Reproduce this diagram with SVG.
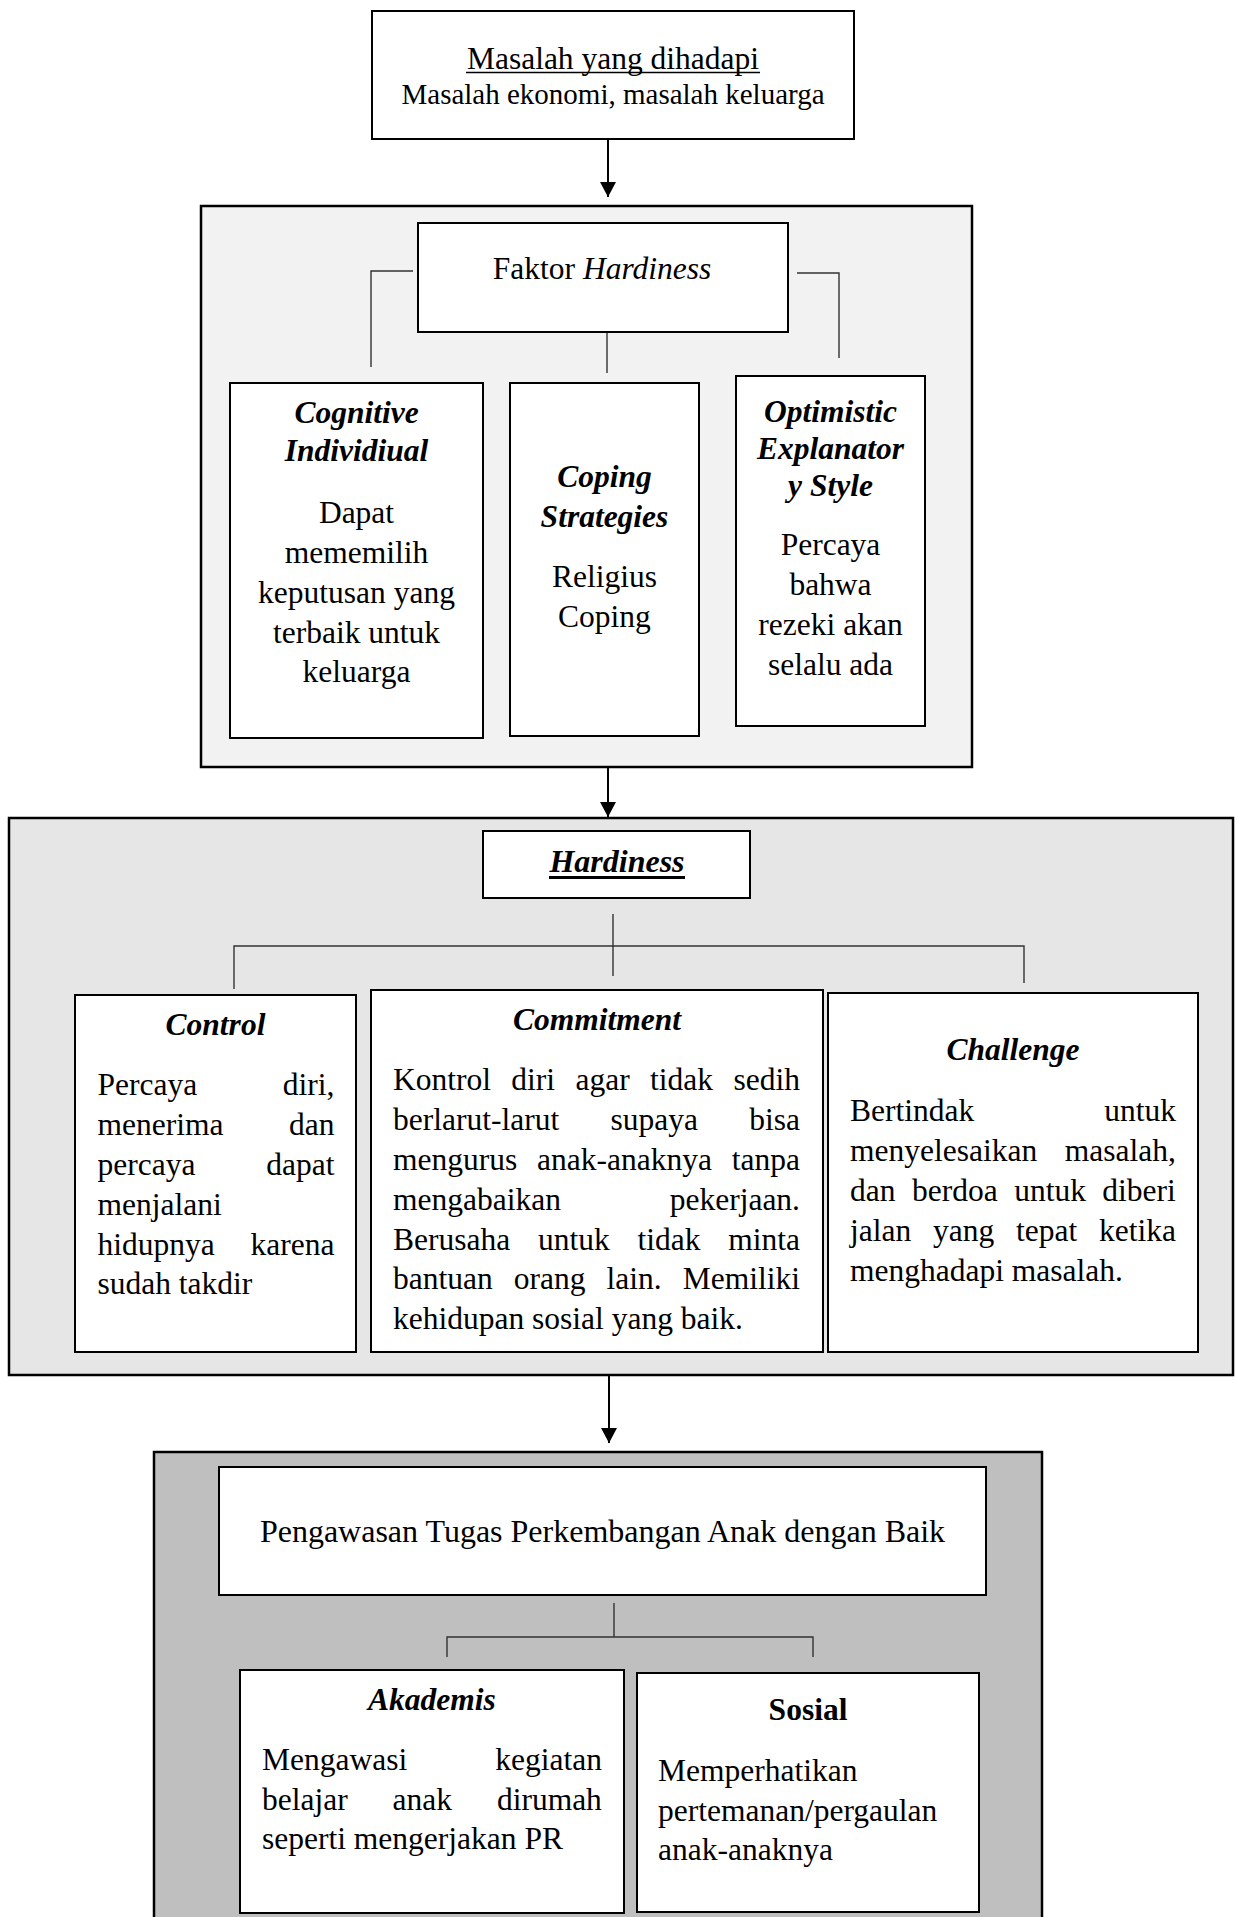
<svg xmlns="http://www.w3.org/2000/svg" width="1235" height="1917" viewBox="0 0 1235 1917">
<style>
.panel{stroke:#000;stroke-width:2.5}
.box{fill:#fff;stroke:#000;stroke-width:2}
.t{font-family:"Liberation Serif","Times New Roman",serif;font-size:31.5px;fill:#000}
.c{text-anchor:middle}
.bi{font-weight:bold;font-style:italic}
.b{font-weight:bold}
.tree{stroke:#333;stroke-width:1.4;fill:none}
.arr{stroke:#000;stroke-width:2;fill:none;marker-end:url(#ah)}
.ul{stroke:#000}
</style>
<defs>
<marker id="ah" markerUnits="userSpaceOnUse" viewBox="0 0 15 16" markerWidth="15" markerHeight="16" refX="15" refY="8" orient="auto">
<path d="M0,0 L15,8 L0,16 z" fill="#000"/>
</marker>
</defs>
<rect width="1235" height="1917" fill="#fff"/>

<!-- panels -->
<rect id="panel-faktor" class="panel" x="201" y="206" width="771" height="561" fill="#f2f2f2"/>
<rect id="panel-hardiness" class="panel" x="9" y="818" width="1224" height="557" fill="#e6e6e6"/>
<rect id="panel-pengawasan" class="panel" x="154" y="1452" width="888" height="480" fill="#bfbfbf"/>

<!-- connectors -->
<g id="connectors">
<path class="arr" d="M608,139 V197"/>
<path class="arr" d="M608,767 V817"/>
<path class="arr" d="M609,1375 V1443"/>
<path class="tree" d="M413,271 H371 V367"/>
<path class="tree" d="M607,332 V373"/>
<path class="tree" d="M797,273 H839 V358"/>
<path class="tree" d="M613,914 V976"/>
<path class="tree" d="M234,989 V946 H1024 V983"/>
<path class="tree" d="M614,1603 V1637"/>
<path class="tree" d="M447,1657 V1637 H813 V1657"/>
</g>

<g id="masalah">
<rect class="box" x="372" y="11" width="482" height="128"/>
<text class="t c" x="613" y="69">Masalah yang dihadapi</text>
<line class="ul" x1="466" y1="72.5" x2="760" y2="72.5" stroke-width="1.6"/>
<text class="t c" x="613" y="104" style="font-size:29px">Masalah ekonomi, masalah keluarga</text>
</g>

<g id="faktor-hardiness">
<rect class="box" x="418" y="223" width="370" height="109"/>
<text class="t c" x="602" y="279">Faktor <tspan font-style="italic">Hardiness</tspan></text>
</g>

<g id="cognitive">
<rect class="box" x="230" y="383" width="253" height="355"/>
<text class="t c bi" x="356.5" y="423">Cognitive</text>
<text class="t c bi" x="356.5" y="461">Individiual</text>
<text class="t c" x="356.5" y="523">Dapat</text>
<text class="t c" x="356.5" y="563">mememilih</text>
<text class="t c" x="356.5" y="603">keputusan yang</text>
<text class="t c" x="356.5" y="643">terbaik untuk</text>
<text class="t c" x="356.5" y="682">keluarga</text>
</g>

<g id="coping">
<rect class="box" x="510" y="383" width="189" height="353"/>
<text class="t c bi" x="604.5" y="487">Coping</text>
<text class="t c bi" x="604.5" y="527">Strategies</text>
<text class="t c" x="604.5" y="587">Religius</text>
<text class="t c" x="604.5" y="627">Coping</text>
</g>

<g id="optimistic">
<rect class="box" x="736" y="376" width="189" height="350"/>
<text class="t c bi" x="830.5" y="422">Optimistic</text>
<text class="t c bi" x="830.5" y="459">Explanator</text>
<text class="t c bi" x="830.5" y="496">y Style</text>
<text class="t c" x="830.5" y="555">Percaya</text>
<text class="t c" x="830.5" y="595">bahwa</text>
<text class="t c" x="830.5" y="635">rezeki akan</text>
<text class="t c" x="830.5" y="675">selalu ada</text>
</g>

<g id="hardiness">
<rect class="box" x="483" y="831" width="267" height="67"/>
<text class="t c bi" x="617" y="872" style="font-size:32px">Hardiness</text>
<line class="ul" x1="549" y1="877.5" x2="685" y2="877.5" stroke-width="3"/>
</g>

<g id="control">
<rect class="box" x="75" y="995" width="281" height="357"/>
<text class="t c bi" x="215.5" y="1035">Control</text>
<text class="t" x="97.5" y="1095" word-spacing="77.8">Percaya diri,</text>
<text class="t" x="97.5" y="1135" word-spacing="57.7">menerima dan</text>
<text class="t" x="97.5" y="1175" word-spacing="63">percaya dapat</text>
<text class="t" x="97.5" y="1215">menjalani</text>
<text class="t" x="97.5" y="1255" word-spacing="27.9">hidupnya karena</text>
<text class="t" x="97.5" y="1294">sudah takdir</text>
</g>

<g id="commitment">
<rect class="box" x="371" y="990" width="452" height="362"/>
<text class="t c bi" x="597" y="1030">Commitment</text>
<text class="t" x="393" y="1090" word-spacing="12.5">Kontrol diri agar tidak sedih</text>
<text class="t" x="393" y="1130" word-spacing="43.4">berlarut-larut supaya bisa</text>
<text class="t" x="393" y="1170" word-spacing="11.9">mengurus anak-anaknya tanpa</text>
<text class="t" x="393" y="1210" word-spacing="100.9">mengabaikan pekerjaan.</text>
<text class="t" x="393" y="1250" word-spacing="19.9">Berusaha untuk tidak minta</text>
<text class="t" x="393" y="1289" word-spacing="13.2">bantuan orang lain. Memiliki</text>
<text class="t" x="393" y="1329">kehidupan sosial yang baik.</text>
</g>

<g id="challenge">
<rect class="box" x="828" y="993" width="370" height="359"/>
<text class="t c bi" x="1013" y="1060">Challenge</text>
<text class="t" x="850" y="1121" word-spacing="122.1">Bertindak untuk</text>
<text class="t" x="850" y="1161" word-spacing="19.8">menyelesaikan masalah,</text>
<text class="t" x="850" y="1201" word-spacing="8.6">dan berdoa untuk diberi</text>
<text class="t" x="850" y="1241" word-spacing="13.9">jalan yang tepat ketika</text>
<text class="t" x="850" y="1281">menghadapi masalah.</text>
</g>

<g id="pengawasan">
<rect class="box" x="219" y="1467" width="767" height="128"/>
<text class="t c" x="602.5" y="1542" style="font-size:32px">Pengawasan Tugas Perkembangan Anak dengan Baik</text>
</g>

<g id="akademis">
<rect class="box" x="240" y="1670" width="384" height="243"/>
<text class="t c bi" x="432" y="1710">Akademis</text>
<text class="t" x="262" y="1770" word-spacing="80.2">Mengawasi kegiatan</text>
<text class="t" x="262" y="1810" word-spacing="37">belajar anak dirumah</text>
<text class="t" x="262" y="1849">seperti mengerjakan PR</text>
</g>

<g id="sosial">
<rect class="box" x="637" y="1673" width="342" height="239"/>
<text class="t c b" x="808" y="1720">Sosial</text>
<text class="t" x="658" y="1781">Memperhatikan</text>
<text class="t" x="658" y="1821">pertemanan/pergaulan</text>
<text class="t" x="658" y="1860">anak-anaknya</text>
</g>
</svg>
